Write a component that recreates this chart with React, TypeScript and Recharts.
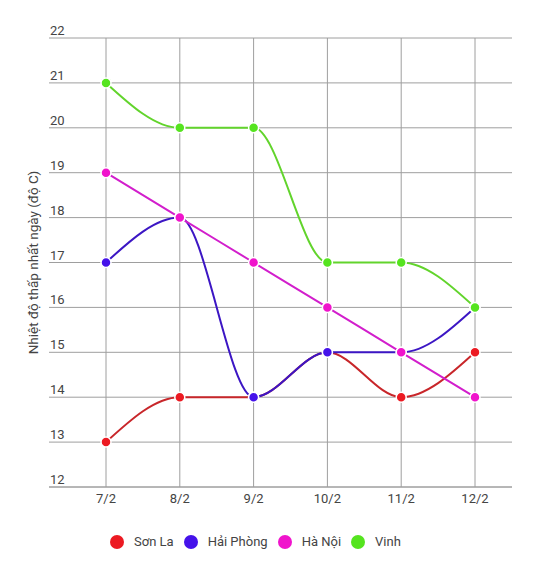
import React from 'react';
import { LineChart, Line, XAxis, YAxis, CartesianGrid } from 'recharts';

const days = ['7/2', '8/2', '9/2', '10/2', '11/2', '12/2'];
const sonLa = [13, 14, 14, 15, 14, 15];
const haiPhong = [17, 18, 14, 15, 15, 16];
const haNoi = [19, 18, 17, 16, 15, 14];
const vinh = [21, 20, 20, 17, 17, 16];
const yTicks = [12, 13, 14, 15, 16, 17, 18, 19, 20, 21, 22];

const series = [
  { key: 'sonLa', name: 'Sơn La', values: sonLa, line: '#c8262a', dot: '#ec1a22' },
  { key: 'haiPhong', name: 'Hải Phòng', values: haiPhong, line: '#3c16c4', dot: '#4512ea' },
  { key: 'haNoi', name: 'Hà Nội', values: haNoi, line: '#d21ecc', dot: '#f014cc' },
  { key: 'vinh', name: 'Vinh', values: vinh, line: '#62d42c', dot: '#55e41f' },
];

const data = days.map((day, i) => {
  const row: any = { day };
  series.forEach((s) => {
    row[s.key] = s.values[i];
  });
  return row;
});

const FONT = 'Roboto, sans-serif';
const GRID = '#9e9e9e';
const TEXT = '#444';

const YTick = (props: any) => {
  const { y, payload } = props;
  return (
    <text x={50} y={y - 3} textAnchor="start" fill={TEXT} fontSize={13} fontFamily={FONT}>
      {payload.value}
    </text>
  );
};

const YLabel = (props: any) => {
  const vb = props.viewBox || {};
  const cy = (vb.y ?? 38) + (vb.height ?? 449) / 2;
  const cx = 38;
  return (
    <text
      x={cx}
      y={cy}
      transform={`rotate(-90 ${cx} ${cy})`}
      textAnchor="middle"
      fill={TEXT}
      fontSize={13.5}
      fontFamily={FONT}
    >
      Nhiệt độ thấp nhất ngày (độ C)
    </text>
  );
};

export default function App() {
  return (
    <div style={{ position: 'absolute', left: 0, top: 0, width: 541, height: 569, background: '#fff', fontFamily: FONT }}>
      <LineChart width={541} height={517} data={data} margin={{ top: 38, right: 29, left: 48, bottom: 0 }}>
        <CartesianGrid stroke={GRID} strokeWidth={1} syncWithTicks />
        <XAxis
          dataKey="day"
          padding={{ left: 57, right: 37 }}
          axisLine={{ stroke: GRID }}
          tickLine={false}
          tickSize={5}
          height={30}
          tick={{ fill: TEXT, fontSize: 13, fontFamily: FONT }}
        />
        <YAxis
          domain={[12, 22]}
          ticks={yTicks}
          width={1}
          axisLine={false}
          tickLine={false}
          tick={<YTick />}
          label={{ content: <YLabel /> }}
        />
        {series.map((s) => (
          <Line
            key={s.key}
            type="monotone"
            dataKey={s.key}
            name={s.name}
            stroke={s.line}
            strokeWidth={2}
            dot={{ r: 5, fill: s.dot, stroke: '#fff', strokeWidth: 1.5 }}
            isAnimationActive={false}
          />
        ))}
      </LineChart>
      <div style={{ position: 'absolute', left: 110, top: 534, display: 'flex', alignItems: 'center', fontSize: 13, color: TEXT }}>
        {series.map((s) => (
          <div key={s.key} style={{ display: 'flex', alignItems: 'center', marginRight: 10 }}>
            <span style={{ display: 'inline-block', width: 14, height: 14, borderRadius: 7, background: s.dot, marginRight: 10 }} />
            <span>{s.name}</span>
          </div>
        ))}
      </div>
    </div>
  );
}
